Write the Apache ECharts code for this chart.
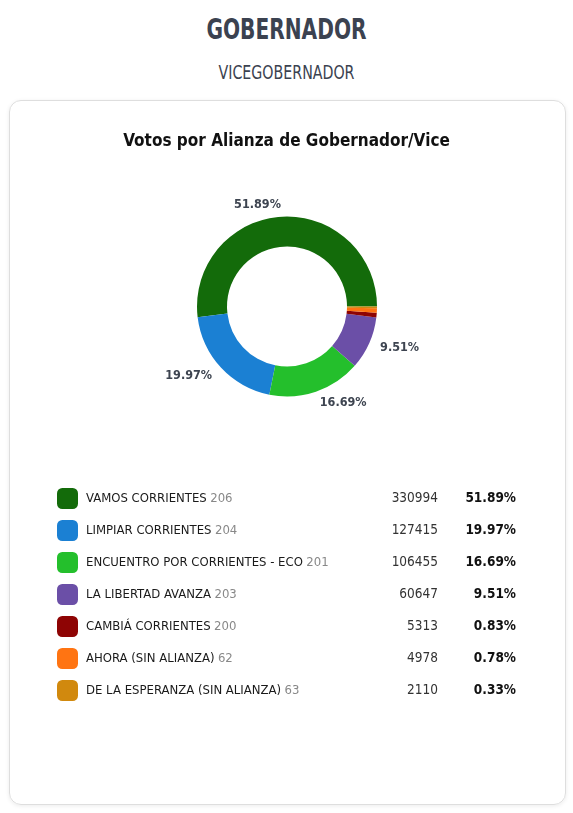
<!DOCTYPE html>
<html>
<head>
<meta charset="utf-8">
<script src="https://cdn.jsdelivr.net/npm/echarts@6/dist/echarts.min.js"></script>
<style>
  html, body { margin:0; padding:0; background:#fff; width:573px; height:813px; overflow:hidden; }
  body { position:relative; font-family:"Liberation Sans Narrow","DejaVu Sans Condensed","Roboto Condensed",sans-serif; }
  .h1 { position:absolute; left:0; width:573px; top:12px; text-align:center; font-size:28px; font-weight:bold; color:#3b4250; line-height:36px; transform:scaleX(0.8); transform-origin:286.5px 0; }
  .h2 { position:absolute; left:0; width:573px; top:59px; text-align:center; font-size:20px; color:#3b4250; line-height:26px; transform:scaleX(0.79); transform-origin:286.5px 0; }
  .card { position:absolute; left:9px; top:100px; width:555px; height:703px; border:1px solid #dedede; border-radius:12px; box-shadow:0 1px 4px rgba(0,0,0,0.08); }
  #chart { position:absolute; left:0; top:0; width:573px; height:813px; }
</style>
</head>
<body>
<div class="h1">GOBERNADOR</div>
<div class="h2">VICEGOBERNADOR</div>
<div class="card"></div>
<div id="chart"></div>
<script>
const names = ["VAMOS CORRIENTES","LIMPIAR CORRIENTES","ENCUENTRO POR CORRIENTES - ECO","LA LIBERTAD AVANZA","CAMBIÁ CORRIENTES","AHORA (SIN ALIANZA)","DE LA ESPERANZA (SIN ALIANZA)"];
const codes = ["206","204","201","203","200","62","63"];
const votes = [330994,127415,106455,60647,5313,4978,2110];
const percents = ["51.89%","19.97%","16.69%","9.51%","0.83%","0.78%","0.33%"];
const colors = ["#136b0a","#1b80d3","#24bf2c","#6b4fa7","#8e0404","#ff7412","#d1890e"];

const FONT = '"Liberation Sans Narrow","DejaVu Sans Condensed","Roboto Condensed",sans-serif';
const chart = echarts.init(document.getElementById('chart'), null, {renderer:'canvas'});
const idx = n => names.indexOf(n);
chart.setOption({
  animation:false,
  color: colors,
  title: {
    text: 'Votos por Alianza de Gobernador/Vice',
    left: 'center', top: 133, padding:0,
    textStyle: { fontFamily: FONT, fontSize: 17, fontWeight: 'bold', color: '#111' }
  },
  legend: [{
    orient:'vertical', left:57, top:488, padding:0,
    icon:'roundRect', itemWidth:21, itemHeight:21, itemGap:11, itemTextGap:11,
    selectedMode:false,
    data: names,
    formatter: n => `{n|${n}} {c|${codes[idx(n)]}}`,
    textStyle: {
      fontFamily: FONT,
      rich: {
        n: { fontFamily: FONT, fontSize:13, color:'#1a1a1a', padding:[0,0,0,3] },
        c: { fontFamily: FONT, fontSize:13, color:'#888' }
      }
    }
  },{
    orient:'vertical', left:352, top:488, padding:0,
    icon:'rect', itemWidth:1, itemHeight:21, itemGap:11, itemTextGap:0,
    itemStyle:{ opacity:0 },
    selectedMode:false,
    data: names,
    formatter: n => `{v|${votes[idx(n)]}}{p|${percents[idx(n)]}}`,
    textStyle: {
      fontFamily: FONT,
      rich: {
        v: { fontFamily: FONT, fontSize:13.5, color:'#333', width:80, align:'right' },
        p: { fontFamily: FONT, fontSize:13.5, fontWeight:'bold', color:'#111', width:78, align:'right' }
      }
    }
  }],
  series: [{
    type:'pie',
    center:[287,306.5],
    radius:[60,90],
    startAngle:0,
    clockwise:false,
    minShowLabelAngle:5,
    avoidLabelOverlap:false,
    emphasis:{ disabled:true },
    itemStyle:{ borderWidth:0 },
    label:{
      show:true, position:'outside', distanceToLabelLine:0,
      fontFamily: FONT, fontSize:12.5, fontWeight:'bold', color:'#3d4450',
      formatter: p => percents[p.dataIndex]
    },
    labelLine:{ show:false, length:12, length2:0 },
    data: names.map((n,i)=>({ name:n, value:votes[i] }))
  }]
});
</script>
</body>
</html>
